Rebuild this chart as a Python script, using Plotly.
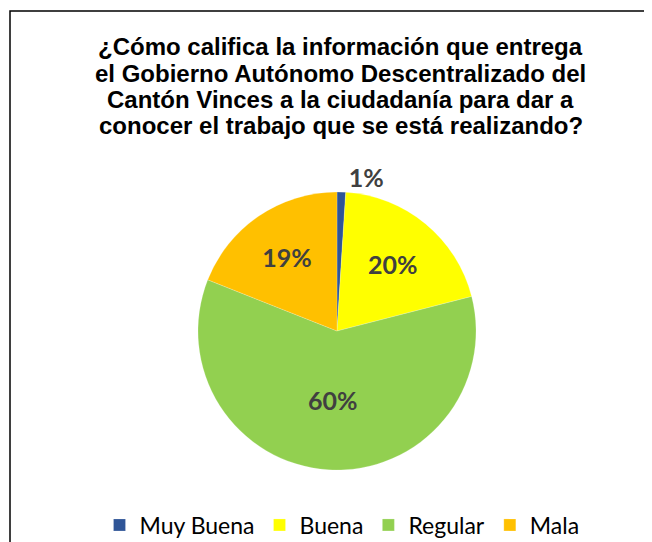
import plotly.graph_objects as go

categories = ["Muy Buena", "Buena", "Regular", "Mala"]
values = [1, 20, 60, 19]
colors = ["#2F5597", "#FFFF00", "#92D050", "#FFC000"]
title_lines = [
    "¿Cómo califica la información que entrega",
    "el Gobierno Autónomo Descentralizado del",
    "Cantón Vinces a la ciudadanía para dar a",
    "conocer el trabajo que se está realizando?",
]

# page body has an 8px margin, so the figure is sized to fit the window
W, H = 644, 534
OFF = 8


def px_x(p):
    return (p - OFF) / W


def px_y(p):
    return 1 - (p - OFF) / H


fig = go.Figure()
fig.add_trace(go.Pie(
    labels=categories,
    values=values,
    sort=False,
    direction="clockwise",
    rotation=0,
    marker=dict(colors=colors, line=dict(color="rgba(255,255,255,0.4)", width=0.5)),
    texttemplate="%{percent:.0%}",
    textposition=["outside", "inside", "inside", "inside"],
    insidetextorientation="horizontal",
    textfont=dict(family="Lato", size=25, color="#404040", weight="bold"),
    hoverinfo="label+percent",
    domain=dict(x=[px_x(50), px_x(624)], y=[px_y(470), px_y(192)]),
))

annotations = []
title_y = [47, 73.5, 100, 126]
for line, yy in zip(title_lines, title_y):
    annotations.append(dict(
        text=line, showarrow=False,
        xref="paper", yref="paper",
        x=px_x(341), y=px_y(yy), xanchor="center", yanchor="middle",
        font=dict(family="Liberation Sans", size=24, color="black", weight="bold"),
    ))

fig.update_layout(
    width=W, height=H,
    margin=dict(l=0, r=0, t=0, b=0, autoexpand=False),
    paper_bgcolor="white",
    plot_bgcolor="white",
    annotations=annotations,
    legend=dict(
        orientation="h",
        x=px_x(342), xanchor="center",
        y=px_y(525), yanchor="middle",
        font=dict(family="Lato", size=23, color="black"),
        traceorder="normal",
    ),
    showlegend=True,
    shapes=[dict(
        type="rect", xref="paper", yref="paper",
        x0=px_x(10), y0=px_y(11), x1=1.05, y1=-0.05,
        line=dict(color="black", width=1.5),
        fillcolor="rgba(0,0,0,0)",
    )],
)

fig.write_html("out.html")
